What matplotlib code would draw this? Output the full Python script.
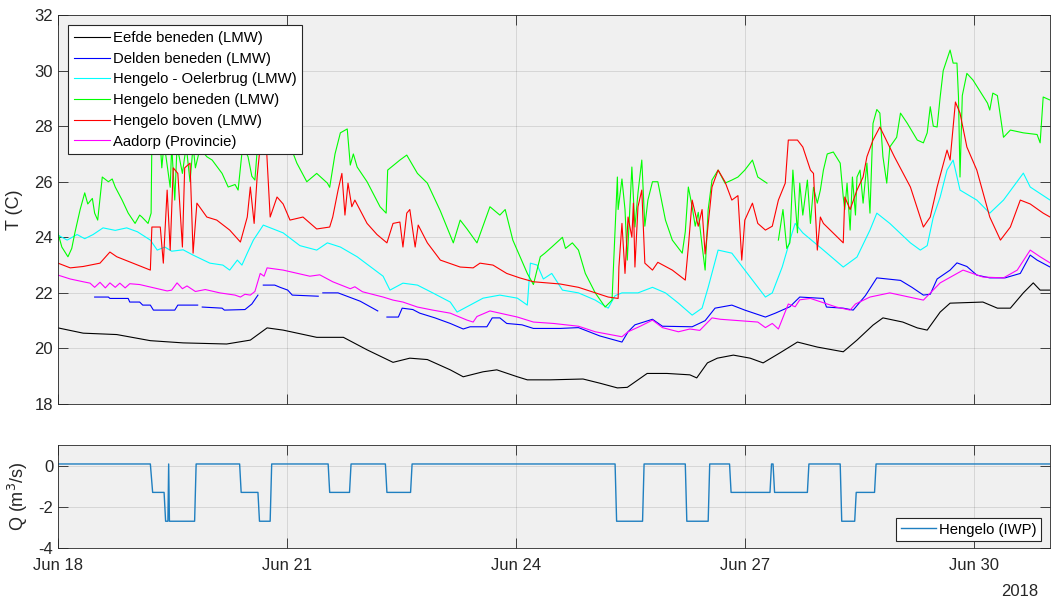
import numpy as np
import matplotlib
matplotlib.use("Agg")
import matplotlib.pyplot as plt
import matplotlib.dates as mdates
from datetime import datetime

plt.rcParams['font.family'] = ['Liberation Sans', 'DejaVu Sans']
plt.rcParams['axes.unicode_minus'] = False

nan = np.nan
t0 = mdates.date2num(datetime(2018, 6, 18))

# ---- water temperature, time in days after 18 Jun 2018 00:00, T in deg C ----
t_eefde = [0.00, 0.33, 0.77, 1.21, 1.64, 2.21, 2.52, 2.74, 2.95, 3.39,
           3.74, 4.05, 4.39, 4.61, 4.84, 5.14, 5.31, 5.57, 5.75, 6.02,
           6.15, 6.45, 6.88, 7.10, 7.33, 7.46, 7.72, 7.98, 8.28, 8.37,
           8.51, 8.64, 8.85, 9.07, 9.24, 9.46, 9.69, 9.95, 10.29, 10.47,
           10.68, 10.81, 11.07, 11.26, 11.39, 11.56, 11.69, 12.12, 12.31, 12.48,
           12.65, 12.78, 12.87, 13.00]
T_eefde = [20.74, 20.55, 20.5, 20.28, 20.2, 20.16, 20.3, 20.74, 20.66, 20.4,
           20.4, 19.95, 19.5, 19.65, 19.6, 19.23, 18.98, 19.16, 19.23, 18.98,
           18.87, 18.87, 18.9, 18.75, 18.58, 18.6, 19.1, 19.1, 19.05, 18.94,
           19.48, 19.65, 19.76, 19.65, 19.48, 19.84, 20.23, 20.05, 19.88, 20.3,
           20.84, 21.1, 20.95, 20.74, 20.66, 21.31, 21.63, 21.67, 21.45, 21.45,
           22.0, 22.36, 22.1, 22.1]

t_delden = [0.48, 0.66, 0.68, 0.92, 0.94, 1.07, 1.11, 1.21, 1.25, 1.53,
            1.57, 1.83, 1.86, 1.89, 2.15, 2.18, 2.45, 2.54, 2.62, 2.65,
            2.69, 2.84, 2.91, 3.01, 3.07, 3.41, 3.44, 3.47, 3.67, 3.96,
            4.19, 4.24, 4.31, 4.46, 4.51, 4.65, 4.74, 4.94, 5.14, 5.31,
            5.40, 5.62, 5.69, 5.79, 5.88, 6.08, 6.23, 6.58, 6.82, 7.10,
            7.39, 7.47, 7.56, 7.79, 7.92, 8.31, 8.48, 8.61, 8.83, 9.00,
            9.27, 9.40, 9.59, 9.72, 10.03, 10.07, 10.29, 10.42, 10.58, 10.73,
            11.04, 11.19, 11.34, 11.43, 11.52, 11.69, 11.78, 11.91, 12.04, 12.21,
            12.41, 12.61, 12.74, 12.83, 13.00]
T_delden = [21.85, 21.85, 21.8, 21.8, 21.67, 21.67, 21.56, 21.56, 21.38, 21.38,
            21.56, 21.56, nan, 21.49, 21.45, 21.38, 21.4, 21.6, 21.92, nan,
            22.28, 22.28, 22.2, 22.1, 21.92, 21.88, nan, 22.0, 22.0, 21.7,
            21.35, nan, 21.13, 21.13, 21.45, 21.4, 21.27, 21.1, 20.9, 20.7,
            20.78, 20.78, 21.1, 21.1, 20.9, 20.85, 20.72, 20.72, 20.75, 20.45,
            20.23, 20.6, 20.85, 21.05, 20.8, 20.78, 21.0, 21.45, 21.56, 21.38,
            21.13, 21.27, 21.5, 21.85, 21.8, 21.49, 21.45, 21.38, 21.9, 22.54,
            22.45, 22.2, 21.92, 21.95, 22.5, 22.82, 23.08, 22.95, 22.64, 22.54,
            22.54, 22.7, 23.36, 23.18, 22.93]

t_oelerbrug = [0.00, 0.12, 0.25, 0.35, 0.46, 0.59, 0.75, 0.90, 1.04, 1.21,
               1.30, 1.40, 1.49, 1.64, 1.77, 1.99, 2.16, 2.25, 2.35, 2.41,
               2.48, 2.56, 2.69, 2.95, 3.17, 3.39, 3.53, 3.70, 3.92, 4.26,
               4.35, 4.52, 4.71, 4.91, 5.14, 5.23, 5.40, 5.57, 5.79, 6.02,
               6.15, 6.19, 6.28, 6.36, 6.47, 6.61, 6.82, 7.04, 7.21, 7.30,
               7.39, 7.60, 7.79, 7.96, 8.13, 8.31, 8.44, 8.52, 8.65, 8.83,
               9.00, 9.27, 9.36, 9.49, 9.62, 9.66, 9.76, 10.03, 10.29, 10.47,
               10.64, 10.73, 10.90, 11.17, 11.30, 11.39, 11.47, 11.56, 11.65, 11.73,
               11.82, 12.04, 12.21, 12.39, 12.65, 12.74, 13.00]
T_oelerbrug = [24.08, 23.9, 24.1, 23.95, 24.1, 24.34, 24.25, 24.34, 24.2, 23.9,
               23.54, 23.65, 23.5, 23.55, 23.36, 23.07, 23.0, 22.82, 23.18, 23.0,
               23.43, 23.9, 24.44, 24.16, 23.7, 23.54, 23.8, 23.65, 23.3, 22.6,
               22.1, 22.35, 22.28, 22.0, 21.67, 21.31, 21.56, 21.81, 21.92, 21.81,
               21.56, 23.07, 23.0, 22.5, 22.7, 22.1, 22.0, 21.74, 21.45, 21.9,
               22.0, 22.0, 22.2, 22.0, 21.63, 21.2, 21.45, 22.2, 23.54, 23.43,
               22.82, 21.85, 22.0, 22.93, 24.16, 24.5, 24.16, 23.54, 22.93, 23.29,
               24.26, 24.87, 24.5, 23.8, 23.54, 23.7, 24.73, 25.45, 26.42, 26.78,
               25.7, 25.34, 24.87, 25.34, 26.31, 25.81, 25.34]

t_beneden = [0.00, 0.05, 0.13, 0.18, 0.22, 0.29, 0.35, 0.39, 0.45, 0.48,
             0.52, 0.58, 0.66, 0.71, 0.75, 0.84, 0.92, 1.01, 1.07, 1.10,
             1.18, 1.22, 1.23, 1.34, 1.36, 1.39, 1.47, 1.49, 1.53, 1.56,
             1.63, 1.68, 1.73, 1.77, 1.80, 1.86, 1.95, 2.02, 2.15, 2.23,
             2.32, 2.36, 2.42, 2.49, 2.54, 2.58, 2.62, 2.78, 2.98, 3.07,
             3.13, 3.26, 3.39, 3.53, 3.56, 3.63, 3.70, 3.79, 3.83, 3.87,
             3.92, 4.05, 4.22, 4.30, 4.32, 4.48, 4.57, 4.71, 4.84, 5.01,
             5.18, 5.27, 5.36, 5.49, 5.66, 5.79, 5.86, 5.96, 6.15, 6.23,
             6.32, 6.38, 6.47, 6.61, 6.65, 6.74, 6.82, 6.91, 7.04, 7.17,
             7.26, 7.33, 7.34, 7.39, 7.43, 7.46, 7.52, 7.56, 7.60, 7.65,
             7.69, 7.73, 7.79, 7.86, 7.96, 8.05, 8.18, 8.22, 8.26, 8.31,
             8.35, 8.39, 8.44, 8.48, 8.52, 8.57, 8.65, 8.74, 8.83, 8.91,
             9.00, 9.10, 9.17, 9.29, 9.36, 9.44, 9.50, 9.55, 9.59, 9.63,
             9.69, 9.72, 9.76, 9.82, 9.86, 9.90, 9.95, 9.99, 10.03, 10.08,
             10.16, 10.25, 10.29, 10.31, 10.34, 10.38, 10.41, 10.45, 10.47, 10.51,
             10.55, 10.60, 10.64, 10.68, 10.73, 10.77, 10.81, 10.86, 10.90, 10.99,
             11.04, 11.13, 11.26, 11.34, 11.39, 11.43, 11.47, 11.52, 11.56, 11.60,
             11.69, 11.73, 11.78, 11.80, 11.82, 11.85, 11.91, 11.99, 12.18, 12.21,
             12.25, 12.31, 12.39, 12.48, 12.65, 12.83, 12.87, 12.91, 13.00]
T_beneden = [24.15, 23.65, 23.3, 23.6, 24.15, 25.0, 25.6, 25.2, 25.4, 24.87,
             24.62, 26.17, 26.0, 26.1, 25.81, 25.34, 24.87, 24.5, 24.8, 24.73,
             24.5, 24.87, 27.5, 27.4, 26.5, 27.4, 25.8, 27.3, 25.34, 27.3,
             26.3, 27.3, 26.0, 27.3, 26.5, 27.2, 26.9, 26.78, 26.3, 25.81,
             25.9, 25.7, 27.3, 26.9, 26.2, 26.06, 27.5, 27.6, 27.4, 27.1,
             26.67, 26.0, 26.3, 25.95, 25.8, 27.0, 27.76, 27.9, 26.6, 27.0,
             26.53, 26.0, 25.1, 24.87, 26.42, 26.78, 26.96, 26.3, 25.95, 24.95,
             23.8, 24.62, 24.3, 23.8, 25.1, 24.8, 25.0, 23.9, 22.7, 22.3,
             23.3, 23.43, 23.65, 24.0, 23.6, 23.8, 23.54, 22.7, 22.0, 21.49,
             21.74, 26.17, 25.0, 26.1, 25.0, 23.18, 26.53, 24.37, 25.6, 26.78,
             24.4, 25.34, 26.0, 26.0, 24.62, 23.9, 23.43, 24.2, 25.81, 25.1,
             24.4, 24.9, 23.7, 22.82, 25.0, 26.06, 26.42, 25.95, 26.06, 26.17,
             26.42, 26.78, 26.17, 25.95, nan, 23.9, 25.0, 23.6, 23.8, 26.42,
             24.16, 25.95, 24.8, 26.06, 24.5, 25.8, 25.23, 25.7, 26.42, 27.0,
             27.07, 26.67, 25.45, 25.0, 25.95, 24.26, 26.17, 24.8, 26.17, 26.42,
             25.23, 26.67, 24.87, 28.1, 28.6, 28.47, 26.9, 25.95, 27.25, 27.6,
             28.47, 28.1, 27.5, 27.4, 27.76, 28.7, 28.0, 27.97, 29.05, 30.0,
             30.74, 30.27, 30.27, 29.05, 26.17, 29.1, 29.9, 29.66, 28.83, 28.58,
             29.19, 29.1, 27.6, 27.86, 27.76, 27.7, 27.4, 29.05, 28.94]

t_boven = [0.00, 0.16, 0.33, 0.55, 0.68, 0.77, 0.98, 1.21, 1.23, 1.34,
           1.38, 1.43, 1.47, 1.51, 1.57, 1.63, 1.66, 1.73, 1.77, 1.82,
           1.95, 2.08, 2.25, 2.39, 2.48, 2.52, 2.57, 2.61, 2.65, 2.73,
           2.78, 2.87, 2.95, 3.04, 3.21, 3.39, 3.56, 3.60, 3.67, 3.72,
           3.76, 3.80, 3.85, 3.89, 4.05, 4.18, 4.31, 4.39, 4.48, 4.52,
           4.57, 4.61, 4.68, 4.72, 4.84, 5.01, 5.27, 5.44, 5.53, 5.70,
           5.88, 6.05, 6.23, 6.58, 6.82, 7.21, 7.34, 7.35, 7.39, 7.43,
           7.47, 7.52, 7.54, 7.56, 7.60, 7.65, 7.69, 7.79, 7.86, 8.05,
           8.22, 8.26, 8.31, 8.39, 8.44, 8.48, 8.57, 8.65, 8.74, 8.83,
           8.91, 8.96, 9.00, 9.10, 9.17, 9.27, 9.36, 9.44, 9.53, 9.57,
           9.69, 9.76, 9.86, 9.90, 9.95, 9.99, 10.03, 10.29, 10.31, 10.38,
           10.47, 10.55, 10.60, 10.68, 10.77, 10.96, 11.17, 11.34, 11.43, 11.52,
           11.65, 11.69, 11.76, 11.82, 11.91, 12.04, 12.21, 12.35, 12.48, 12.61,
           12.74, 12.91, 13.00]
T_boven = [23.07, 22.9, 22.95, 23.07, 23.47, 23.3, 23.07, 22.82, 24.37, 24.37,
           23.07, 25.7, 23.54, 26.5, 26.3, 23.65, 26.5, 26.67, 23.43, 25.23,
           24.73, 24.62, 24.26, 23.83, 24.73, 25.81, 24.5, 26.2, 27.3, 27.3,
           24.73, 25.45, 25.2, 24.62, 24.73, 24.3, 24.37, 24.73, 25.7, 26.3,
           24.8, 25.95, 25.1, 25.34, 24.5, 24.1, 23.8, 24.5, 24.55, 23.65,
           24.87, 25.0, 23.65, 24.44, 23.8, 23.18, 22.93, 22.9, 23.07, 23.0,
           22.7, 22.54, 22.4, 22.32, 22.2, 21.85, 21.8, 22.93, 24.5, 22.7,
           24.73, 24.0, 25.23, 22.93, 25.1, 25.7, 23.07, 22.82, 23.1, 22.82,
           22.46, 23.65, 25.34, 24.4, 25.0, 23.4, 25.81, 26.42, 26.0, 25.34,
           25.5, 23.18, 24.62, 25.23, 24.5, 24.26, 24.4, 25.34, 25.95, 27.5,
           27.5, 27.25, 26.42, 26.3, 23.54, 24.73, 24.5, 23.8, 25.45, 25.0,
           25.7, 26.17, 26.9, 27.5, 27.97, 26.9, 25.81, 24.37, 24.73, 25.81,
           27.14, 26.78, 28.87, 28.47, 27.25, 26.42, 24.73, 23.9, 24.37, 25.34,
           25.2, 24.87, 24.73]

t_aadorp = [0.00, 0.16, 0.33, 0.42, 0.48, 0.55, 0.62, 0.68, 0.75, 0.81,
            0.88, 0.94, 1.07, 1.43, 1.49, 1.56, 1.63, 1.69, 1.80, 1.93,
            2.12, 2.32, 2.39, 2.45, 2.52, 2.58, 2.65, 2.70, 2.74, 2.95,
            3.30, 3.43, 3.60, 3.83, 3.89, 3.99, 4.26, 4.39, 4.52, 4.71,
            4.91, 5.14, 5.36, 5.44, 5.49, 5.66, 6.02, 6.23, 6.49, 6.82,
            7.04, 7.39, 7.47, 7.63, 7.79, 7.92, 8.13, 8.28, 8.41, 8.57,
            8.68, 9.17, 9.27, 9.36, 9.44, 9.57, 9.66, 9.72, 9.86, 10.20,
            10.38, 10.45, 10.64, 10.90, 11.34, 11.56, 11.86, 12.12, 12.39, 12.57,
            12.74, 12.87, 13.00]
T_aadorp = [22.64, 22.5, 22.4, 22.35, 22.2, 22.38, 22.18, 22.36, 22.2, 22.35,
            22.18, 22.33, 22.3, 22.07, 22.1, 22.36, 22.15, 22.25, 22.05, 22.12,
            22.0, 21.92, 21.85, 21.95, 21.92, 22.05, 22.7, 22.6, 22.9, 22.82,
            22.6, 22.65, 22.4, 22.15, 22.22, 22.04, 21.85, 21.74, 21.67, 21.49,
            21.38, 21.27, 21.02, 20.95, 21.15, 21.35, 21.13, 20.95, 20.9, 20.8,
            20.6, 20.42, 20.6, 20.8, 21.02, 20.75, 20.6, 20.7, 20.65, 21.1,
            21.05, 20.95, 20.75, 20.9, 20.7, 21.6, 21.5, 21.75, 21.8, 21.49,
            21.38, 21.6, 21.85, 22.0, 21.74, 22.36, 22.82, 22.57, 22.54, 22.82,
            23.54, 23.3, 23.08]

# ---- discharge at Hengelo (IWP), m3/s ----
t_q = [0.00, 1.21, 1.24, 1.39, 1.41, 1.44, 1.45, 1.46, 1.79, 1.81,
       2.38, 2.40, 2.62, 2.64, 2.78, 2.80, 3.54, 3.56, 3.82, 3.84,
       4.29, 4.31, 4.62, 4.64, 7.30, 7.32, 7.66, 7.68, 8.22, 8.24,
       8.52, 8.54, 8.80, 8.82, 9.33, 9.35, 9.37, 9.39, 9.82, 9.84,
       10.25, 10.27, 10.44, 10.46, 10.70, 10.72, 13.00]
q_hengelo = [0.08, 0.08, -1.3, -1.3, -2.7, -2.7, 0.08, -2.7, -2.7, 0.08,
             0.08, -1.3, -1.3, -2.7, -2.7, 0.08, 0.08, -1.3, -1.3, 0.08,
             0.08, -1.3, -1.3, 0.08, 0.08, -2.7, -2.7, 0.08, 0.08, -2.7,
             -2.7, 0.08, 0.08, -1.3, -1.3, 0.08, 0.08, -1.3, -1.3, 0.08,
             0.08, -2.7, -2.7, -1.3, -1.3, 0.08, 0.08]

series = [
    ("Eefde beneden (LMW)", t_eefde, T_eefde, "#000000"),
    ("Delden beneden (LMW)", t_delden, T_delden, "#0000FF"),
    ("Hengelo - Oelerbrug (LMW)", t_oelerbrug, T_oelerbrug, "#00FFFF"),
    ("Hengelo beneden (LMW)", t_beneden, T_beneden, "#00FF00"),
    ("Hengelo boven (LMW)", t_boven, T_boven, "#FF0000"),
    ("Aadorp (Provincie)", t_aadorp, T_aadorp, "#FF00FF"),
]

TXT = "#262626"


def style_axes(ax):
    ax.set_facecolor("#F0F0F0")
    for sp in ax.spines.values():
        sp.set_color(TXT)
        sp.set_linewidth(0.6)
    ax.grid(True, color=TXT, alpha=0.15, linewidth=0.6)
    ax.set_axisbelow(True)
    ax.tick_params(direction="in", length=7, width=0.6, top=True, right=True,
                   colors=TXT, labelsize=12, labelcolor=TXT)


fig = plt.figure(figsize=(10.51, 6.04), dpi=100)
ax1 = fig.add_axes([0.0552, 0.3311, 0.9439, 0.6440])
ax2 = fig.add_axes([0.0552, 0.0927, 0.9439, 0.1705])

xmin, xmax = t0, t0 + 13
xt = [t0 + d for d in (0, 3, 6, 9, 12)]

for label, t, v, c in series:
    ax1.plot(t0 + np.asarray(t), np.asarray(v, dtype=float), color=c,
             linewidth=0.8, label=label)
style_axes(ax1)
ax1.set_xlim(xmin, xmax)
ax1.set_ylim(18, 32)
ax1.set_yticks(np.arange(18, 33, 2))
ax1.set_xticks(xt)
ax1.tick_params(labelbottom=False)
ax1.set_ylabel("T (C)", fontsize=13, color=TXT, labelpad=8)
leg1 = ax1.legend(loc="upper left", bbox_to_anchor=(0.0101, 0.974),
                  borderaxespad=0, fontsize=10.7, frameon=True, fancybox=False,
                  framealpha=1, edgecolor=TXT, handlelength=2.4,
                  handletextpad=0.2, labelspacing=0.45, borderpad=0.4)
leg1.get_frame().set_linewidth(0.8)

ax2.plot(t0 + np.asarray(t_q), q_hengelo, color="#1f7fc0", linewidth=1.0,
         label="Hengelo (IWP)")
style_axes(ax2)
ax2.set_xlim(xmin, xmax)
ax2.set_ylim(-4, 1)
ax2.set_yticks([-4, -2, 0])
ax2.set_xticks(xt)
ax2.xaxis.set_major_formatter(mdates.DateFormatter("%b %d"))
ax2.tick_params(axis="x", pad=7)
ax2.set_ylabel("Q (m$^3$/s)", fontsize=13, color=TXT, labelpad=6)
leg2 = ax2.legend(loc="lower right", bbox_to_anchor=(0.991, 0.068),
                  borderaxespad=0, fontsize=10.7, frameon=True, fancybox=False,
                  framealpha=1, edgecolor=TXT, handlelength=2.4,
                  handletextpad=0.2, borderpad=0.3)
leg2.get_frame().set_linewidth(0.8)

fig.text(1020 / 1051, 1 - 592 / 604, "2018", ha="center", va="center",
         fontsize=12, color=TXT)

fig.savefig("out.png", dpi=100)
